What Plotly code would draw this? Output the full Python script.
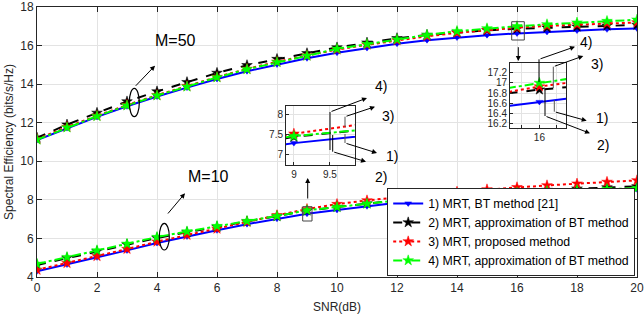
import plotly.graph_objects as go

# ---------------- data ----------------
snr = list(range(0, 21))

blue50 = [11.10, 11.72, 12.30, 12.85, 13.36, 13.82, 14.27, 14.67, 15.02, 15.34, 15.63,
          15.87, 16.10, 16.28, 16.42, 16.54, 16.63, 16.71, 16.78, 16.84, 16.89]
black50 = [11.22, 11.90, 12.51, 13.10, 13.62, 14.10, 14.58, 14.98, 15.30, 15.60, 15.90,
           16.15, 16.38, 16.55, 16.68, 16.79, 16.87, 16.93, 16.98, 17.03, 17.07]
red50 = [11.15, 11.78, 12.36, 12.92, 13.43, 13.90, 14.37, 14.79, 15.16, 15.48, 15.79,
         16.04, 16.27, 16.48, 16.66, 16.81, 16.93, 17.02, 17.09, 17.15, 17.20]
green50 = [11.12, 11.75, 12.34, 12.89, 13.41, 13.87, 14.35, 14.77, 15.14, 15.47, 15.83,
           16.08, 16.32, 16.55, 16.75, 16.89, 17.00, 17.10, 17.19, 17.27, 17.34]

blue10 = [4.30, 4.65, 5.02, 5.38, 5.76, 6.10, 6.42, 6.74, 7.02, 7.28, 7.48,
          7.67, 7.85, 8.00, 8.12, 8.22, 8.31, 8.38, 8.45, 8.50, 8.55]
black10 = [4.62, 4.98, 5.33, 5.68, 6.02, 6.32, 6.60, 6.88, 7.15, 7.44, 7.63,
           7.81, 7.97, 8.11, 8.23, 8.34, 8.43, 8.51, 8.58, 8.64, 8.70]
red10 = [4.37, 4.72, 5.08, 5.45, 5.83, 6.18, 6.50, 6.85, 7.20, 7.52, 7.78,
         7.97, 8.14, 8.29, 8.42, 8.54, 8.65, 8.75, 8.84, 8.93, 9.01]
green10 = [4.68, 5.03, 5.38, 5.72, 6.07, 6.36, 6.64, 6.90, 7.16, 7.46, 7.63,
           7.80, 7.97, 8.10, 8.21, 8.30, 8.38, 8.45, 8.51, 8.56, 8.60]

names = ["1) MRT, BT method [21]",
         "2) MRT, approximation of BT method",
         "3) MRT, proposed method",
         "4) MRT, approximation of BT method"]

x_ticks = [0, 2, 4, 6, 8, 10, 12, 14, 16, 18, 20]
y_ticks = [4, 6, 8, 10, 12, 14, 16, 18]

FONT = "Liberation Sans, Arial, sans-serif"
INK = "#262626"

series = [
    (blue50, blue10, "#0000ff", "solid", "triangle-down", 6),
    (black50, black10, "#000000", "dash", "star", 8),
    (red50, red10, "#ff0000", "dot", "star", 8),
    (green50, green10, "#00ff00", "dashdot", "star", 8),
]

fig = go.Figure()

axes_sets = [("x", "y", True), ("x2", "y2", False), ("x3", "y3", False)]
for xa, ya, main in axes_sets:
    for i, (v50, v10, col, dash, sym, msz) in enumerate(series):
        xs = snr + [None] + snr
        ys = v50 + [None] + v10
        fig.add_trace(go.Scatter(
            x=xs, y=ys, xaxis=xa, yaxis=ya,
            mode="lines+markers",
            name=names[i], showlegend=main, legendgroup=str(i),
            line=dict(color=col, dash=dash, width=2),
            marker=dict(symbol=sym, size=msz, color=col,
                        line=dict(width=0.5, color=col)),
            connectgaps=False, hoverinfo="skip"))

# ---------------- layout ----------------
W, H = 644, 322
ML, MR, MT, MB = 37, 7, 7, 45
PW = W - ML - MR
PH = H - MT - MB


def P(px, py):
    """pixel position -> main data coordinates"""
    x = (px - ML) / PW * 20.0
    y = 18.0 - (py - MT) / PH * 14.0
    return x, y


def dom(px0, px1, py0, py1):
    return ([(px0 - ML) / PW, (px1 - ML) / PW],
            [(MT + PH - py1) / PH, (MT + PH - py0) / PH])


axis_common = dict(showline=True, linecolor=INK, linewidth=1, mirror="ticks",
                   ticks="inside", tickcolor=INK, gridcolor="#e3e3e3",
                   zeroline=False, automargin=False,
                   tickfont=dict(size=12, color=INK, family=FONT))

in1x, in1y = dom(286, 355, 106, 165)
in2x, in2y = dom(510, 566, 63, 128)

inset_common = dict(showline=True, linecolor=INK, linewidth=1, mirror=True,
                    ticks="inside", ticklen=3, tickcolor=INK, gridcolor="#e3e3e3",
                    zeroline=False, automargin=False,
                    tickfont=dict(size=10, color=INK, family=FONT))

fig.update_layout(
    width=W, height=H, autosize=False,
    margin=dict(l=ML, r=MR, t=MT, b=MB, pad=0, autoexpand=False),
    paper_bgcolor="white", plot_bgcolor="white",
    font=dict(family=FONT, color=INK, size=12),
    xaxis=dict(range=[0, 20], tickvals=x_ticks, ticklen=5,
               title=dict(text="SNR(dB)", standoff=8, font=dict(size=12)),
               **axis_common),
    yaxis=dict(range=[4, 18], tickvals=y_ticks, ticklen=5,
               title=dict(text="Spectral Efficiency (bits/s/Hz)", standoff=4,
                          font=dict(size=12)),
               **axis_common),
    xaxis2=dict(domain=in1x, anchor="y2", range=[8.89, 9.85],
                tickvals=[9, 9.5], **inset_common),
    yaxis2=dict(domain=in1y, anchor="x2", range=[6.72, 8.23],
                tickvals=[7, 7.5, 8], **inset_common),
    xaxis3=dict(domain=in2x, anchor="y3", range=[15.16, 16.76],
                tickvals=[15.5, 16, 16.5], ticktext=["", "16", ""], **inset_common),
    yaxis3=dict(domain=in2y, anchor="x3", range=[16.12, 17.39],
                tickvals=[16.2, 16.4, 16.6, 16.8, 17, 17.2], **inset_common),
    legend=dict(x=0.997, y=0.004, xanchor="right", yanchor="bottom",
                bgcolor="white", bordercolor=INK, borderwidth=1,
                font=dict(size=12.3, family=FONT, color="black"),
                tracegroupgap=0, itemwidth=30),
    showlegend=True,
)

shapes = []
annotations = []


def line(p0, p1, color="black", width=1):
    x0, y0 = P(*p0)
    x1, y1 = P(*p1)
    shapes.append(dict(type="line", xref="x", yref="y", x0=x0, y0=y0, x1=x1, y1=y1,
                       line=dict(color=color, width=width), layer="above"))


def arrow(tail, head, color="black"):
    ax, ay = P(*tail)
    hx, hy = P(*head)
    annotations.append(dict(x=hx, y=hy, ax=ax, ay=ay, xref="x", yref="y",
                            axref="x", ayref="y", text="", showarrow=True,
                            arrowhead=2, arrowsize=1, arrowwidth=1,
                            arrowcolor=color, standoff=0, startstandoff=0))


def label(pos, txt, size=14):
    x, y = P(*pos)
    annotations.append(dict(x=x, y=y, xref="x", yref="y", text=txt, showarrow=False,
                            font=dict(size=size, color="black", family=FONT)))


def ellipse(px0, py0, px1, py1):
    x0, y0 = P(px0, py1)
    x1, y1 = P(px1, py0)
    shapes.append(dict(type="circle", xref="x", yref="y", x0=x0, y0=y0, x1=x1, y1=y1,
                       line=dict(color="black", width=1.2), layer="above"))


def rect(px0, py0, px1, py1):
    x0, y0 = P(px0, py1)
    x1, y1 = P(px1, py0)
    shapes.append(dict(type="rect", xref="x", yref="y", x0=x0, y0=y0, x1=x1, y1=y1,
                       line=dict(color="#444444", width=1), layer="above"))


# M labels, ellipses, arrows
label((175, 40), "M=50", 16)
ellipse(129.3, 88.3, 139.3, 116.7)
arrow((134.3, 87.3), (155, 65.7))

label((208, 176), "M=10", 16)
ellipse(159.3, 223.3, 169.3, 250)
arrow((166.7, 215), (185, 193.3))

# zoom rectangles + arrows to insets
rect(302.7, 206.7, 312, 221)
arrow((307.7, 200), (307.7, 178))
rect(511.7, 21.7, 524.3, 40)
arrow((518.3, 45.7), (518.3, 61))

# inset 1 callouts
line((330, 112), (330, 150))
arrow((330, 112), (367, 98))
line((345, 116.7), (345, 127), color="#555555")
arrow((345, 116.7), (375, 106.7))
line((345, 134), (345, 143), color="#555555")
arrow((345, 143), (377, 153))
line((332.7, 135), (332.7, 151.7))
arrow((332.7, 151.7), (366, 161.7))
label((381, 86), "4)")
label((388, 116), "3)")
label((392, 156), "1)")
label((381, 177), "2)")

# inset 2 callouts
line((539, 59.3), (539, 82))
arrow((539, 59.3), (575, 46.7))
line((553.3, 66.7), (553.3, 88), color="#555555")
arrow((553.3, 66.7), (583.3, 56))
line((554.3, 100), (554.3, 111.7), color="#555555")
arrow((554.3, 111.7), (586.7, 120.7))
line((545, 90), (545, 116))
arrow((545, 116), (590, 133.3))
label((586, 42), "4)")
label((597, 64), "3)")
label((602, 118), "1)")
label((603, 145), "2)")

fig.update_layout(shapes=shapes, annotations=annotations)

fig.write_html("out.html", config={"displayModeBar": False},
               post_script="document.body.style.margin='0';document.body.style.padding='0';")
